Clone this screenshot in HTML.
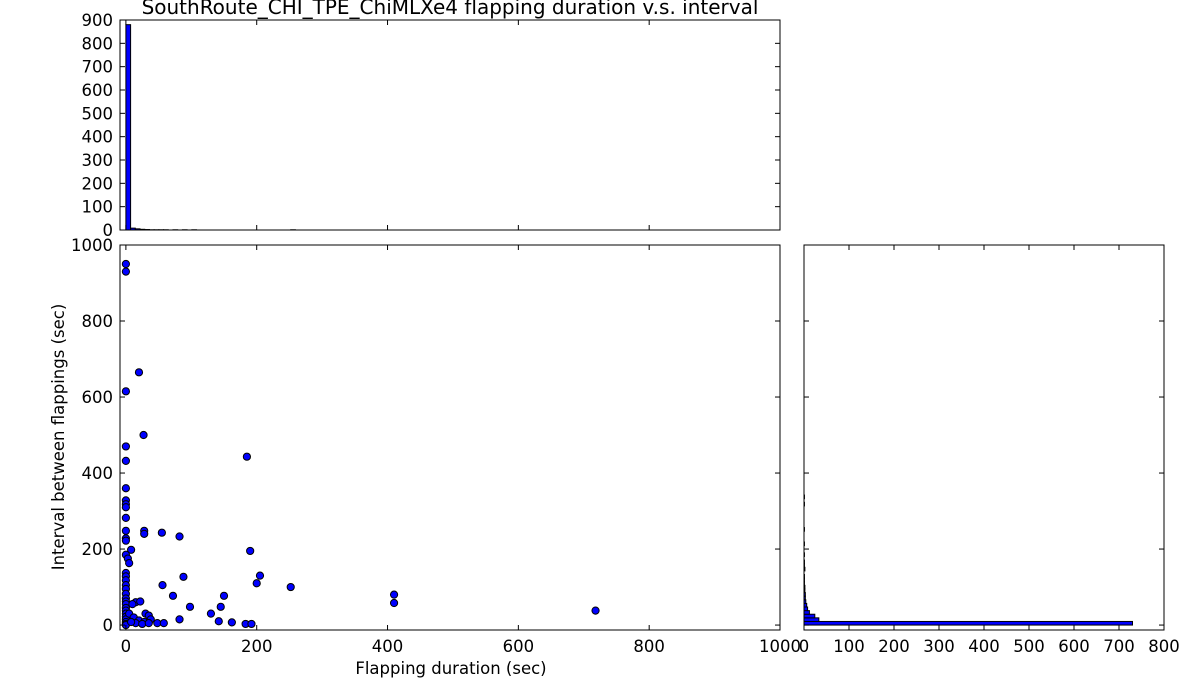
<!DOCTYPE html>
<html><head><meta charset="utf-8"><style>
html,body{margin:0;padding:0;background:#fff;}
svg{display:block;font-family:"DejaVu Sans","Liberation Sans",sans-serif;}
</style></head>
<body>
<svg id="c" width="1200" height="700" viewBox="0 0 1200 700"></svg>
<script>
const durations=[0,0,0,0,0,0,0,0,0,0,0,0,0,8,0,3,5,0,0,0,0,0,0,0,0,0,0,0,0,0,0,0,0,0,
20,27,28,28,55,82,185,190,56,88,200,205,252,72,150,145,98,130,82,142,162,183,192,410,410,718,48,58,15,22,10,5,12,20,30,35,38,28,15,8,25,35];
const intervals=[950,930,615,470,432,360,328,318,310,282,248,228,222,198,185,175,163,137,128,118,105,95,82,70,62,55,45,38,30,22,15,8,3,0,
665,500,248,240,243,233,443,195,105,127,110,130,100,77,77,48,48,30,15,10,7,3,3,80,58,38,5,5,60,62,55,30,20,12,30,25,15,8,5,8,3,5];
const topCounts=[880,8,5,3,2,1,1,1,1,0,1,0,1,0,1,0,0,0,0,0,0,0,0,0,0,0,0,0,0,0,0,0,0,0,0,1];
const topBinWidth=7.2;
const rightCounts=[730,33,24,12,8,6,4,3,3,2,2,1,1,1,0,2,1,1,0,1,0,0,1,0,0,0,1,0,0,0,0,0,0,1,0,1];
const rightBinWidth=9.5;
const mainXTicks=[0,200,400,600,800,1000];
const mainYTicks=[0,200,400,600,800,1000];
const topYTicks=[0,100,200,300,400,500,600,700,800,900];
const rightXTicks=[0,100,200,300,400,500,600,700,800];

const NS="http://www.w3.org/2000/svg";
const svg=document.getElementById('c');
function el(t,a,p){const e=document.createElementNS(NS,t);for(const k in a)e.setAttribute(k,a[k]);(p||svg).appendChild(e);return e;}
const M={l:120,r:780,t:245,b:630};
const R={l:804,r:1164,t:245,b:630};
const T={l:120,r:780,t:20,b:230};
const xS=v=>M.l+(v+9)/(1009)*(M.r-M.l);
const yS=v=>M.b-(v+13)/(1013)*(M.b-M.t);
const tyS=v=>T.b-v/900*(T.b-T.t);
const rxS=v=>R.l+v/800*(R.r-R.l);

const gt=el('g',{});


topCounts.forEach((c,i)=>{ if(c<=0)return;
  const x0=xS(i*topBinWidth),x1=xS((i+1)*topBinWidth);
  const r=el('rect',{x:x0,y:tyS(c),width:x1-x0,height:T.b-tyS(c),fill:'#0000ff',stroke:'#000','stroke-width':1},gt);
  
  
});
const gr=el('g',{});


rightCounts.forEach((c,i)=>{ if(c<=0)return;
  const y0=yS(i*rightBinWidth),y1=yS((i+1)*rightBinWidth);
  const r=el('rect',{x:R.l,y:y1,width:rxS(c)-R.l,height:y0-y1,fill:'#0000ff',stroke:'#000','stroke-width':1},gr);
  
  
});
const gs=el('g',{});


durations.forEach((d,i)=>{
  const c=el('circle',{cx:xS(d),cy:yS(intervals[i]),r:3.6,fill:'#0000ff',stroke:'#000','stroke-width':1},gs);
  
  
});
[[M,'scatter-frame'],[R,'interval-frame'],[T,'duration-frame']].forEach(([f,n])=>{
  const r=el('rect',{x:f.l,y:f.t,width:f.r-f.l,height:f.b-f.t,fill:'none',stroke:'#000','stroke-width':1});
  
  
});
function txt(x,y,s,anchor,size,name){const t=el('text',{x:x,y:y,'text-anchor':anchor,'font-size':size,fill:'#000'});t.textContent=s;
  
  
  return t;}
mainXTicks.forEach(v=>{const x=xS(v);
  el('line',{x1:x,x2:x,y1:M.b,y2:M.b-5,stroke:'#000'});el('line',{x1:x,x2:x,y1:M.t,y2:M.t+5,stroke:'#000'});
  el('line',{x1:x,x2:x,y1:T.b,y2:T.b-5,stroke:'#000'});el('line',{x1:x,x2:x,y1:T.t,y2:T.t+5,stroke:'#000'});
  txt(x,652,String(v),'middle',16.5,'x-tick-label');});
mainYTicks.forEach(v=>{const y=yS(v);
  el('line',{x1:M.l,x2:M.l+5,y1:y,y2:y,stroke:'#000'});el('line',{x1:M.r,x2:M.r-5,y1:y,y2:y,stroke:'#000'});
  el('line',{x1:R.l,x2:R.l+5,y1:y,y2:y,stroke:'#000'});el('line',{x1:R.r,x2:R.r-5,y1:y,y2:y,stroke:'#000'});
  txt(113,y+6,String(v),'end',16.5,'y-tick-label');});
topYTicks.forEach(v=>{const y=tyS(v);
  el('line',{x1:T.l,x2:T.l+5,y1:y,y2:y,stroke:'#000'});el('line',{x1:T.r,x2:T.r-5,y1:y,y2:y,stroke:'#000'});
  txt(113,y+6,String(v),'end',16.5,'top-y-tick-label');});
rightXTicks.forEach(v=>{const x=rxS(v);
  el('line',{x1:x,x2:x,y1:R.b,y2:R.b-5,stroke:'#000'});el('line',{x1:x,x2:x,y1:R.t,y2:R.t+5,stroke:'#000'});
  txt(x,652,String(v),'middle',16.5,'right-x-tick-label');});
txt(451,674,'Flapping duration (sec)','middle',16.5,'x-axis-title');
const yt=txt(0,0,'Interval between flappings (sec)','middle',16.5,'y-axis-title');
yt.setAttribute('transform','translate(64,437) rotate(-90)');
txt(450,14,'SouthRoute_CHI_TPE_ChiMLXe4 flapping duration v.s. interval','middle',20,'chart-title');
</script>
</body></html>
